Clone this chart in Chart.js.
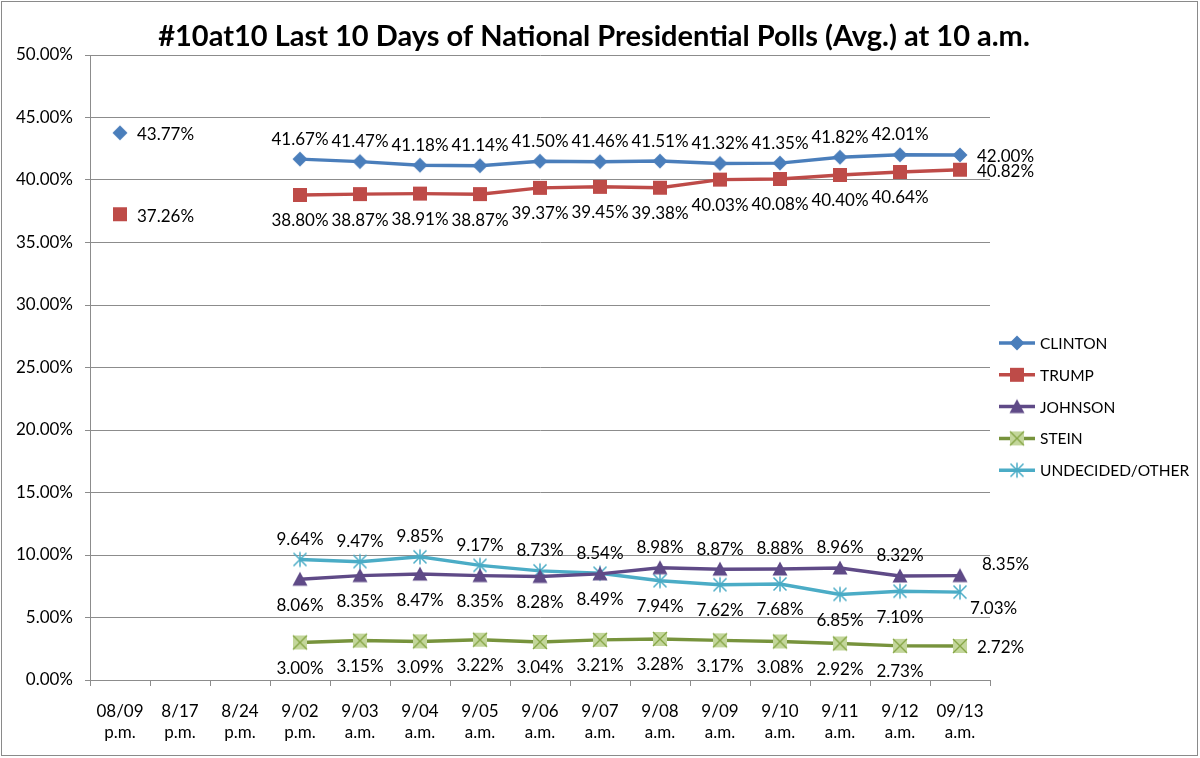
<!DOCTYPE html>
<html>
<head>
<meta charset="utf-8">
<script src="https://cdn.jsdelivr.net/npm/chart.js@4/dist/chart.umd.min.js"></script>
<style>
  html, body { margin: 0; padding: 0; background: #fff; }
  #wrap { width: 1200px; height: 758px; position: relative; }
</style>
</head>
<body>
<div id="wrap"><canvas id="pollChart"></canvas></div>
<script>
const TITLE = "#10at10 Last 10 Days of National Presidential Polls (Avg.) at 10 a.m.";

const categories = [
  ["08/09", "p.m."], ["8/17", "p.m."], ["8/24", "p.m."], ["9/02", "p.m."],
  ["9/03", "a.m."], ["9/04", "a.m."], ["9/05", "a.m."], ["9/06", "a.m."],
  ["9/07", "a.m."], ["9/08", "a.m."], ["9/09", "a.m."], ["9/10", "a.m."],
  ["9/11", "a.m."], ["9/12", "a.m."], ["09/13", "a.m."],
];

const clinton   = [43.77, null, null, 41.67, 41.47, 41.18, 41.14, 41.50, 41.46, 41.51, 41.32, 41.35, 41.82, 42.01, 42.00];
const trump     = [37.26, null, null, 38.80, 38.87, 38.91, 38.87, 39.37, 39.45, 39.38, 40.03, 40.08, 40.40, 40.64, 40.82];
const johnson   = [null, null, null, 8.06, 8.35, 8.47, 8.35, 8.28, 8.49, 8.98, 8.87, 8.88, 8.96, 8.32, 8.35];
const stein     = [null, null, null, 3.00, 3.15, 3.09, 3.22, 3.04, 3.21, 3.28, 3.17, 3.08, 2.92, 2.73, 2.72];
const undecided = [null, null, null, 9.64, 9.47, 9.85, 9.17, 8.73, 8.54, 7.94, 7.62, 7.68, 6.85, 7.10, 7.03];

// where each value label sits: a = above, b = below, r = right, ru/rd = right up/down
const clintonLabelPos   = ["r", null, null, "a", "a", "a", "a", "a", "a", "a", "a", "a", "a", "a", "r"];
const trumpLabelPos     = ["r", null, null, "b", "b", "b", "b", "b", "b", "b", "b", "b", "b", "b", "r"];
const johnsonLabelPos   = [null, null, null, "b", "b", "b", "b", "b", "b", "a", "a", "a", "a", "a", "ru"];
const steinLabelPos     = [null, null, null, "b", "b", "b", "b", "b", "b", "b", "b", "b", "b", "b", "r"];
const undecidedLabelPos = [null, null, null, "a", "a", "a", "a", "a", "a", "b", "b", "b", "b", "b", "rd"];

const yTicksMin = 0, yTicksMax = 50, yTicksStep = 5;

const FONT = "Lato, 'Liberation Sans', sans-serif";
const GRID = "#8c8c8c";

function makeMarker(kind, fill, stroke) {
  const c = document.createElement("canvas");
  const s = 18;
  c.width = s; c.height = s;
  const g = c.getContext("2d");
  const m = s / 2;
  g.fillStyle = fill;
  g.strokeStyle = stroke;
  if (kind === "diamond") {
    g.beginPath();
    g.moveTo(m, m - 7.5); g.lineTo(m + 7.5, m); g.lineTo(m, m + 7.5); g.lineTo(m - 7.5, m);
    g.closePath(); g.fill();
  } else if (kind === "square") {
    g.fillRect(m - 7, m - 7, 14, 14);
  } else if (kind === "triangle") {
    g.beginPath();
    g.moveTo(m, m - 7.5); g.lineTo(m + 7.5, m + 6.5); g.lineTo(m - 7.5, m + 6.5);
    g.closePath(); g.fill();
  } else if (kind === "boxx") {
    g.fillRect(m - 7, m - 7, 14, 14);
    g.lineWidth = 1.4;
    g.beginPath();
    g.moveTo(m - 7, m - 7); g.lineTo(m + 7, m + 7);
    g.moveTo(m + 7, m - 7); g.lineTo(m - 7, m + 7);
    g.stroke();
  } else if (kind === "star") {
    g.lineWidth = 1.5;
    g.beginPath();
    g.moveTo(m, m - 7.5); g.lineTo(m, m + 7.5);
    g.moveTo(m - 6.5, m - 6.5); g.lineTo(m + 6.5, m + 6.5);
    g.moveTo(m + 6.5, m - 6.5); g.lineTo(m - 6.5, m + 6.5);
    g.stroke();
  }
  return c;
}

const series = [
  { label: "CLINTON", data: clinton, pos: clintonLabelPos, color: "#4a7ebb", marker: makeMarker("diamond", "#4a7ebb", "#4a7ebb") },
  { label: "TRUMP", data: trump, pos: trumpLabelPos, color: "#be4b48", marker: makeMarker("square", "#be4b48", "#be4b48") },
  { label: "JOHNSON", data: johnson, pos: johnsonLabelPos, color: "#5f4a87", marker: makeMarker("triangle", "#5f4a87", "#5f4a87") },
  { label: "STEIN", data: stein, pos: steinLabelPos, color: "#77933c", marker: makeMarker("boxx", "#c3d69b", "#86a646") },
  { label: "UNDECIDED/OTHER", data: undecided, pos: undecidedLabelPos, color: "#4bacc6", marker: makeMarker("star", "#4bacc6", "#4bacc6") },
];

const decorPlugin = {
  id: "decor",
  afterDraw(chart) {
    const ctx = chart.ctx;
    ctx.save();
    // outer frame
    ctx.strokeStyle = "#8a8a8a";
    ctx.lineWidth = 1;
    ctx.strokeRect(1.5, 1.5, 1196, 754);

    // title
    ctx.fillStyle = "#000";
    ctx.font = "bold 29px " + FONT;
    ctx.textAlign = "center";
    ctx.textBaseline = "middle";
    ctx.fillText(TITLE, 594, 37);

    // legend
    ctx.font = "15.5px " + FONT;
    ctx.textAlign = "left";
    series.forEach((s, i) => {
      const y = 343 + i * 31.8;
      ctx.strokeStyle = s.color;
      ctx.lineWidth = 3.5;
      ctx.beginPath();
      ctx.moveTo(999, y); ctx.lineTo(1035, y);
      ctx.stroke();
      ctx.drawImage(s.marker, 1017 - 9, y - 9);
      ctx.fillStyle = "#000";
      ctx.fillText(s.label, 1040, y + 1);
    });

    // value labels
    ctx.font = "17px " + FONT;
    ctx.fillStyle = "#000";
    chart.data.datasets.forEach((ds, di) => {
      const meta = chart.getDatasetMeta(di);
      const pos = series[di].pos;
      meta.data.forEach((pt, i) => {
        const v = ds.data[i];
        if (v === null || !pos[i]) return;
        const txt = v.toFixed(2) + "%";
        let x = pt.x, y = pt.y;
        ctx.textAlign = "center";
        if (pos[i] === "a") y -= 20;
        else if (pos[i] === "b") y += 26;
        else {
          ctx.textAlign = "left";
          if (pos[i] === "r") { x += 17; y += 2; }
          else if (pos[i] === "ru") { x += 22; y -= 11; }
          else if (pos[i] === "rd") { x += 10; y += 16; }
        }
        ctx.fillText(txt, x, y);
      });
    });
    ctx.restore();
  },
};

new Chart(document.getElementById("pollChart"), {
  type: "line",
  data: {
    labels: categories,
    datasets: series.map((s) => ({
      label: s.label,
      data: s.data,
      borderColor: s.color,
      backgroundColor: s.color,
      borderWidth: 3.5,
      pointStyle: s.marker,
      pointRadius: 8,
      pointHoverRadius: 8,
      tension: 0,
      spanGaps: false,
    })),
  },
  options: {
    responsive: true,
    maintainAspectRatio: false,
    animation: false,
    events: [],
    layout: { padding: { left: 0, right: 210, top: 55, bottom: 0 } },
    plugins: { legend: { display: false }, title: { display: false }, tooltip: { enabled: false } },
    scales: {
      x: {
        type: "category",
        offset: true,
        grid: { offset: true, drawOnChartArea: false, drawTicks: true, tickLength: 6, color: GRID },
        border: { display: true, color: GRID, width: 1 },
        ticks: { color: "#000", font: { family: FONT, size: 17, lineHeight: 1.25 }, padding: 15, maxRotation: 0, autoSkip: false },
        afterFit: (scale) => { scale.height = 78; },
      },
      y: {
        min: yTicksMin,
        max: yTicksMax,
        grid: { color: GRID, tickLength: 5, drawTicks: true },
        border: { display: true, color: GRID, width: 1 },
        ticks: {
          stepSize: yTicksStep,
          color: "#000",
          font: { family: FONT, size: 17 },
          padding: 12,
          callback: (v) => v.toFixed(2) + "%",
        },
        afterFit: (scale) => { scale.width = 90; },
      },
    },
  },
  plugins: [decorPlugin],
});
</script>
</body>
</html>
